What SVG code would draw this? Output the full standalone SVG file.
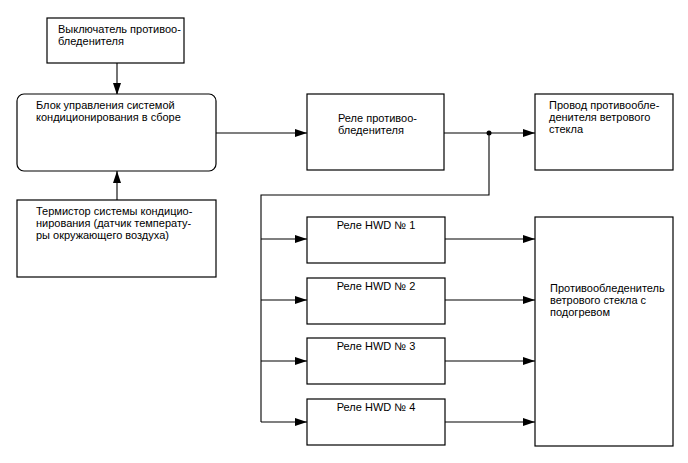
<svg xmlns="http://www.w3.org/2000/svg" width="688" height="463" viewBox="0 0 688 463">
<style>
.box{fill:#fff;stroke:#000;stroke-width:1.2}
.t{font-family:"Liberation Sans",Arial,sans-serif;font-size:11px;fill:#000}
.c{fill:none;stroke:#000;stroke-width:1.1}
</style>
<defs>
<marker id="a" markerWidth="12" markerHeight="8" refX="12" refY="4" orient="auto" markerUnits="userSpaceOnUse">
<path d="M0,0 L12,4 L0,8 Z" fill="#000"/>
</marker>
</defs>
<rect width="688" height="463" fill="#fff"/>
<g id="connectors">
<path class="c" d="M117,63 V95" marker-end="url(#a)"/>
<path class="c" d="M117,200 V171" marker-end="url(#a)"/>
<path class="c" d="M216,133 H307" marker-end="url(#a)"/>
<path class="c" d="M444,133 H535" marker-end="url(#a)"/>
<circle cx="489" cy="133" r="2.5" fill="#000"/>
<path class="c" d="M489,133 V195 H261 V422"/>
<path class="c" d="M261,239 H307" marker-end="url(#a)"/>
<path class="c" d="M261,300 H307" marker-end="url(#a)"/>
<path class="c" d="M261,361 H307" marker-end="url(#a)"/>
<path class="c" d="M261,422 H307" marker-end="url(#a)"/>
<path class="c" d="M445,239 H535" marker-end="url(#a)"/>
<path class="c" d="M445,300 H535" marker-end="url(#a)"/>
<path class="c" d="M445,361 H535" marker-end="url(#a)"/>
<path class="c" d="M445,422 H535" marker-end="url(#a)"/>
</g>
<g id="switch">
<rect class="box" x="47" y="18" width="137" height="45"/>
<text class="t" x="58" y="33">Выключатель противоо-</text>
<text class="t" x="58" y="45">бледенителя</text>
</g>
<g id="ecu">
<rect class="box" x="17" y="94" width="199" height="77" rx="7"/>
<text class="t" x="36" y="109">Блок управления системой</text>
<text class="t" x="36" y="121">кондиционирования в сборе</text>
</g>
<g id="thermistor">
<rect class="box" x="17" y="200" width="199" height="77"/>
<text class="t" x="36" y="215">Термистор системы кондицио-</text>
<text class="t" x="36" y="227">нирования (датчик температу-</text>
<text class="t" x="36" y="239">ры окружающего воздуха)</text>
</g>
<g id="relay">
<rect class="box" x="307" y="94" width="137" height="76"/>
<text class="t" x="338" y="122">Реле противоо-</text>
<text class="t" x="338" y="134">бледенителя</text>
</g>
<g id="wire">
<rect class="box" x="535" y="94" width="138" height="76"/>
<text class="t" x="549" y="109">Провод противообле-</text>
<text class="t" x="549" y="121">денителя ветрового</text>
<text class="t" x="549" y="133">стекла</text>
</g>
<g id="hwd1">
<rect class="box" x="307" y="217" width="138" height="46"/>
<text class="t" x="376" y="229" text-anchor="middle">Реле HWD № 1</text>
</g>
<g id="hwd2">
<rect class="box" x="307" y="278" width="138" height="46"/>
<text class="t" x="376" y="290" text-anchor="middle">Реле HWD № 2</text>
</g>
<g id="hwd3">
<rect class="box" x="307" y="338" width="138" height="46"/>
<text class="t" x="376" y="350" text-anchor="middle">Реле HWD № 3</text>
</g>
<g id="hwd4">
<rect class="box" x="307" y="399" width="138" height="46"/>
<text class="t" x="376" y="411" text-anchor="middle">Реле HWD № 4</text>
</g>
<g id="defogger">
<rect class="box" x="535" y="217" width="138" height="229"/>
<text class="t" x="550" y="292">Противообледенитель</text>
<text class="t" x="550" y="304">ветрового стекла с</text>
<text class="t" x="550" y="316">подогревом</text>
</g>
</svg>
